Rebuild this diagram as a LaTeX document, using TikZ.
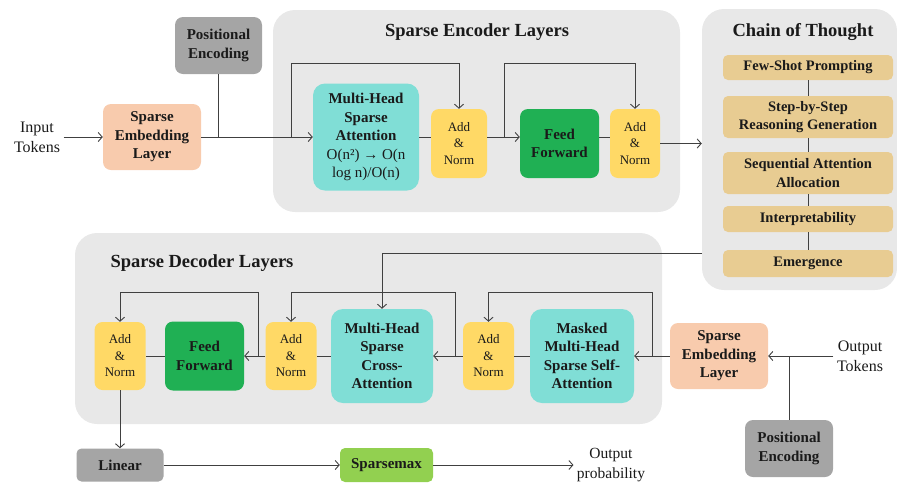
\documentclass[tikz,border=0pt]{standalone}
\usepackage{fontspec}
\setmainfont{Liberation Serif}
\usepackage{tikz}
\usetikzlibrary{arrows,arrows.meta,calc}
\definecolor{groupgray}{RGB}{232,232,232}
\definecolor{boxgray}{RGB}{165,165,165}
\definecolor{peach}{RGB}{248,203,173}
\definecolor{turq}{RGB}{128,222,214}
\definecolor{addyellow}{RGB}{255,217,102}
\definecolor{ffgreen}{RGB}{32,176,84}
\definecolor{smgreen}{RGB}{146,208,80}
\definecolor{cottan}{RGB}{232,204,146}
\definecolor{linegray}{RGB}{64,64,64}
\definecolor{txtgray}{RGB}{26,26,26}

\begin{document}
\begin{tikzpicture}[x=1pt,y=-1pt,>={Straight Barb[length=4pt,width=9pt]}]
        \tikzstyle{every node}=[text=txtgray]
        \tikzstyle{groupbg}=[fill=groupgray,rounded corners=22pt,inner sep=0pt]
        \tikzstyle{box}=[rounded corners=8pt,inner sep=0pt,align=center,font=\bfseries\fontsize{15}{18.5}\selectfont]
        \tikzstyle{embbox}=[box,fill=peach,minimum width=98pt,minimum height=66pt]
        \tikzstyle{pebox}=[box,fill=boxgray,minimum width=87pt,minimum height=57pt]
        \tikzstyle{attbox}=[box,fill=turq,minimum width=104pt,minimum height=94pt,rounded corners=12pt]
        \tikzstyle{addbox}=[box,fill=addyellow,minimum width=51pt,minimum height=68pt,font=\fontsize{13}{16.5}\selectfont]
        \tikzstyle{ffbox}=[box,fill=ffgreen,minimum width=79pt,minimum height=69pt]
        \tikzstyle{cotitem}=[box,fill=cottan,minimum width=170pt,rounded corners=5pt,font=\bfseries\fontsize{14.5}{18.5}\selectfont]
        \tikzstyle{grouptitle}=[font=\bfseries\fontsize{18.5}{22}\selectfont]
        \tikzstyle{tokentext}=[align=center,font=\fontsize{16}{20}\selectfont]
        \tikzstyle{conn}=[draw=linegray,line width=0.9pt]
        \useasboundingbox (0,0) rectangle (897,483);
        \node[groupbg,minimum width=407pt,minimum height=202pt] (encbox) at (476.5,111) {};
        \node[groupbg,minimum width=195pt,minimum height=281pt] (cotbg) at (799.5,149.5) {};
        \node[groupbg,minimum width=587pt,minimum height=191pt] (decbox) at (368.5,328.5) {};
        \node[grouptitle] (enctitle) at (477,32) {Sparse Encoder Layers};
        \node[grouptitle] (cottitle) at (803,32) {Chain of Thought};
        \node[grouptitle,anchor=west] (dectitle) at (107,263) {Sparse Decoder Layers};
        \node[tokentext] (intok) at (37,137) {Input\\Tokens};
        \node[embbox] (encemb) at (152,137) {Sparse\\Embedding\\Layer};
        \node[pebox] (encpe) at (218.5,45.5) {Positional\\Encoding};
        \node[attbox,minimum width=106pt,minimum height=107pt] (encmha) at (366,137) {Multi-Head\\Sparse\\Attention\\{\mdseries O(n²) → O(n}\\{\mdseries log n)/O(n)}};
        \node[addbox,minimum width=56pt,minimum height=69pt] (encan1) at (459,143.5) {Add\\\&\\Norm};
        \node[ffbox] (encff) at (559.5,143.5) {Feed\\Forward};
        \node[addbox,minimum width=50pt,minimum height=69pt] (encan2) at (635,143.5) {Add\\\&\\Norm};
        \node[cotitem,minimum height=25pt] (cot1) at (808,67.5) {Few-Shot Prompting};
        \node[cotitem,minimum height=42pt] (cot2) at (808,117) {Step-by-Step\\Reasoning Generation};
        \node[cotitem,minimum height=42pt] (cot3) at (808,173) {Sequential Attention\\Allocation};
        \node[cotitem,minimum height=26pt] (cot4) at (808,219) {Interpretability};
        \node[cotitem,minimum height=27pt] (cot5) at (808,263.5) {Emergence};
        \node[embbox] (decemb) at (719,356) {Sparse\\Embedding\\Layer};
        \node[pebox,minimum width=88pt] (decpe) at (789,448.5) {Positional\\Encoding};
        \node[tokentext] (outtok) at (860,356) {Output\\Tokens};
        \node[attbox] (decmmha) at (582,356) {Masked\\Multi-Head\\Sparse Self-\\Attention};
        \node[addbox] (decan3) at (488.5,356) {Add\\\&\\Norm};
        \node[attbox,minimum width=102pt] (decxmha) at (382,356) {Multi-Head\\Sparse\\Cross-\\Attention};
        \node[addbox] (decan2) at (291,356) {Add\\\&\\Norm};
        \node[ffbox] (decff) at (204.5,356) {Feed\\Forward};
        \node[addbox] (decan1) at (120,356) {Add\\\&\\Norm};
        \node[box,fill=boxgray,minimum width=87pt,minimum height=33pt,rounded corners=5pt] (linear) at (120,465) {Linear};
        \node[box,fill=smgreen,minimum width=93pt,minimum height=34pt,rounded corners=5pt] (sparsemax) at (386.5,465) {Sparsemax};
        \node[align=center,font=\fontsize{15.5}{20}\selectfont] (outprob) at (611,465) {Output\\probability};
        \coordinate (encsplit1) at (291,137);
        \coordinate (encsplit2) at (504,137);
        \coordinate (cotout) at (702,253);
        \coordinate (decsplit3) at (652,356);
        \coordinate (decsplit2) at (455,356);
        \coordinate (decsplit1) at (258,356);
        \draw[conn,->] (intok) -- (encemb);
        \draw[conn,->] (encemb) -- (encmha);
        \draw[conn] (encpe) -- (encpe |- encemb);
        \draw[conn,->] (encsplit1) -- ++(0,-74) -| (encan1);
        \draw[conn] (encmha.east) -- (encmha.east -| encan1.west);
        \draw[conn,->] (encmha.east -| encan1.east) -- (encmha.east -| encff.west);
        \draw[conn] (encmha.east -| encff.east) -- (encmha.east -| encan2.west);
        \draw[conn,->] (encsplit2) -- ++(0,-74) -| (encan2);
        \draw[conn,->] (encan2.east) -- (encan2.east -| cotbg.west);
        \draw[conn] (cot1) -- (cot2);
        \draw[conn] (cot2) -- (cot3);
        \draw[conn] (cot3) -- (cot4);
        \draw[conn] (cot4) -- (cot5);
        \draw[conn,->] (cotout) -| (decxmha);
        \draw[conn,->] (outtok) -- (decemb);
        \draw[conn] (decpe) -- (decpe |- decemb);
        \draw[conn,->] (decemb) -- (decmmha);
        \draw[conn,->] (decsplit3) -- ++(0,-64) -| (decan3);
        \draw[conn] (decmmha) -- (decan3);
        \draw[conn,->] (decan3) -- (decxmha);
        \draw[conn,->] (decsplit2) -- ++(0,-64) -| (decan2);
        \draw[conn] (decxmha) -- (decan2);
        \draw[conn,->] (decan2) -- (decff);
        \draw[conn,->] (decsplit1) -- ++(0,-64) -| (decan1);
        \draw[conn] (decff) -- (decan1);
        \draw[conn,->] (decan1) -- (linear);
        \draw[conn,->] (linear) -- (sparsemax);
        \draw[conn,->] (sparsemax) -- (outprob);
\end{tikzpicture}
\end{document}
